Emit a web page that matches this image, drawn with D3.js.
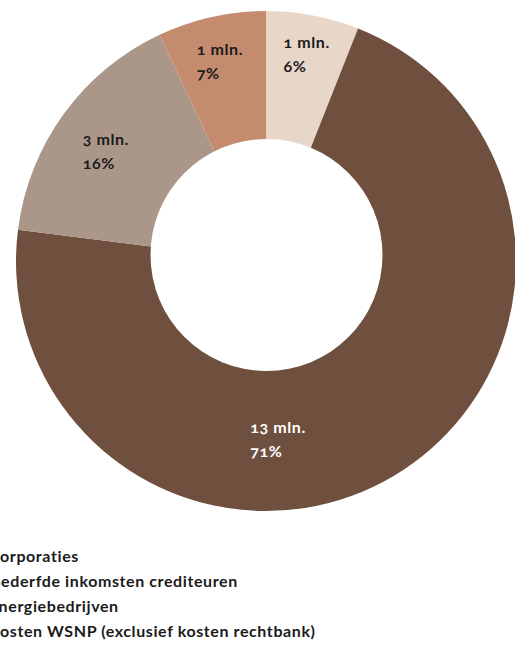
<!DOCTYPE html>
<html>
<head>
<meta charset="utf-8">
<script src="https://cdn.jsdelivr.net/npm/d3@7"></script>
<style>
  html, body { margin: 0; padding: 0; background: #ffffff; }
  svg { display: block; }
  text { font-family: Lato, "Noto Sans", sans-serif; font-weight: 700; font-variant-numeric: oldstyle-nums; }
</style>
</head>
<body>
<svg id="chart" width="515" height="650"></svg>
<script>
// Kosten per partij (in miljoenen euro's) en aandeel in procenten
const categories = [
  "Corporaties",
  "Gederfde inkomsten crediteuren",
  "Energiebedrijven",
  "Kosten WSNP (exclusief kosten rechtbank)"
];
const amounts = [1, 13, 3, 1];        // mln.
const shares = [6, 71, 16, 7];         // %
const colours = ["#e8d6c9", "#6f503e", "#ab978a", "#c48b6e"];
const labelColours = ["#1b1b1b", "#ffffff", "#1b1b1b", "#1b1b1b"];

// Layout
const width = 515, height = 650;
const cx = 266, cy = 261;
const outerR = 250;
const hole = { dx: 0.5, dy: -6, r: 116 };
// label position along each slice: radius and optional fixed angle (degrees)
const labelRadius = [217, 172, 198, 211];
const labelAngle = [null, 176, null, null];
const fontSize = 16, letterSpacing = 0.6;

const svg = d3.select("#chart");

const rows = categories.map((c, i) => ({ name: c, amount: amounts[i], share: shares[i], colour: colours[i], textColour: labelColours[i] }));

const pie = d3.pie().sort(null).value(d => d.share);
const arcs = pie(rows);
const arc = d3.arc().innerRadius(0).outerRadius(outerR);

const g = svg.append("g").attr("transform", `translate(${cx},${cy})`);

g.selectAll("path.slice")
  .data(arcs)
  .join("path")
  .attr("class", "slice")
  .attr("d", arc)
  .attr("fill", d => d.data.colour);

// central hole
g.append("circle")
  .attr("cx", hole.dx)
  .attr("cy", hole.dy)
  .attr("r", hole.r)
  .attr("fill", "#ffffff");

// slice labels: amount on first line, share below
const labels = g.selectAll("g.label")
  .data(arcs)
  .join("g")
  .attr("class", "label");

labels.each(function (d, i) {
  const sel = d3.select(this);
  const a = labelAngle[i] != null ? labelAngle[i] * Math.PI / 180 : (d.startAngle + d.endAngle) / 2;
  const r = labelRadius[i];
  const x = Math.sin(a) * r;
  const y = -Math.cos(a) * r;
  const t1 = sel.append("text")
    .attr("y", y)
    .attr("font-size", fontSize)
    .attr("letter-spacing", letterSpacing)
    .attr("fill", d.data.textColour)
    .text(`${d.data.amount} mln.`);
  const w = t1.node().getComputedTextLength();
  const left = x - w / 2;
  t1.attr("x", left);
  sel.append("text")
    .attr("x", left)
    .attr("y", y + 24)
    .attr("font-size", fontSize)
    .attr("letter-spacing", letterSpacing)
    .attr("fill", d.data.textColour)
    .text(`${d.data.share}%`);
});

// legend
const legend = svg.append("g").attr("transform", "translate(-11,562)");
const item = legend.selectAll("g.item")
  .data(rows)
  .join("g")
  .attr("class", "item")
  .attr("transform", (d, i) => `translate(0,${i * 25})`);

item.append("rect")
  .attr("x", -24)
  .attr("y", -11)
  .attr("width", 12)
  .attr("height", 12)
  .attr("fill", d => d.colour);

item.append("text")
  .attr("x", 0)
  .attr("y", 0)
  .attr("font-size", fontSize)
  .attr("letter-spacing", letterSpacing)
  .attr("fill", "#1b1b1b")
  .text(d => d.name);
</script>
</body>
</html>
